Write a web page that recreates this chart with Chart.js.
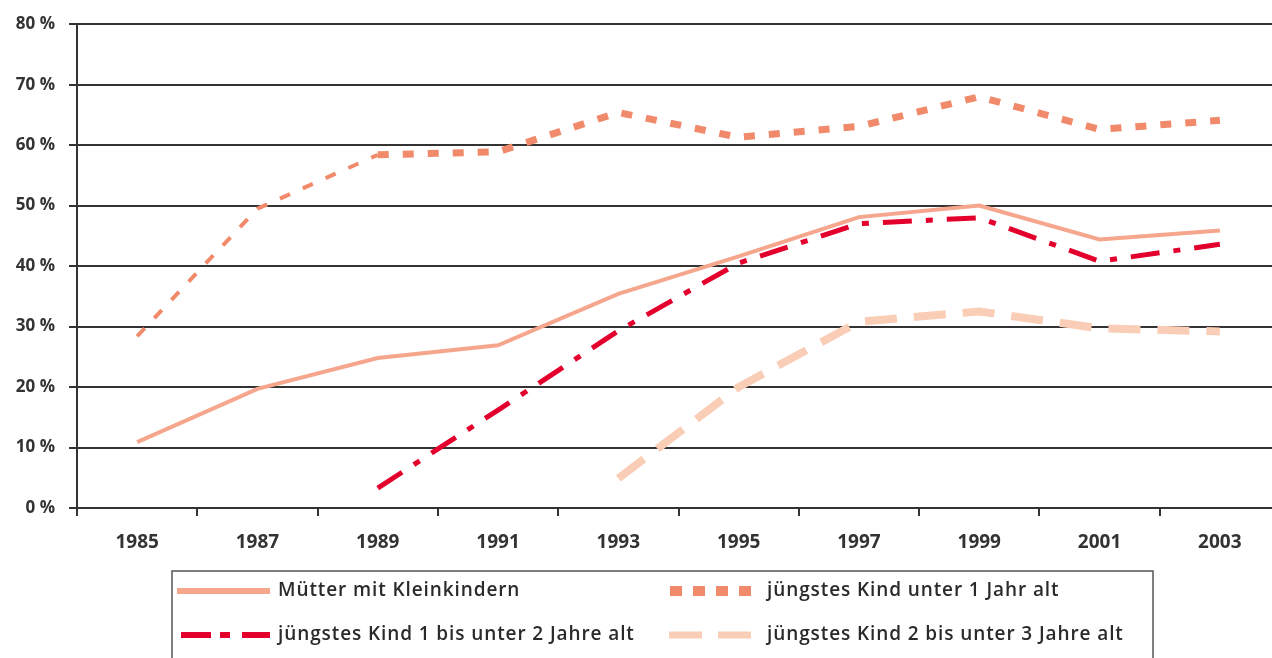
<!DOCTYPE html>
<html>
<head>
<meta charset="utf-8">
<script src="https://cdn.jsdelivr.net/npm/chart.js@4/dist/chart.umd.min.js"></script>
<style>
  html, body { margin: 0; padding: 0; background: #fff; overflow: hidden; }
  #wrap { position: relative; width: 1282px; height: 658px; }
</style>
</head>
<body>
<div id="wrap"><canvas id="chart_quote"></canvas></div>
<script>
// data (per cent)
const years = ["1985", "1987", "1989", "1991", "1993", "1995", "1997", "1999", "2001", "2003"];
const muetter = [10.9, 19.7, 24.8, 26.9, 35.4, 41.6, 48.1, 50.0, 44.4, 45.9];
const unterEins = [28.4, 49.5, 58.4, 58.9, 65.4, 61.3, 63.1, 68.0, 62.6, 64.1];
const einsBisZwei = [null, null, 3.3, 16.2, 29.3, 40.5, 47.0, 48.0, 40.8, 43.6];
const zweiBisDrei = [null, null, null, null, 4.9, 20.0, 30.8, 32.5, 29.7, 29.2];
const seriesNames = [
  "Mütter mit Kleinkindern",
  "jüngstes Kind unter 1 Jahr alt",
  "jüngstes Kind 1 bis unter 2 Jahre alt",
  "jüngstes Kind 2 bis unter 3 Jahre alt"
];

const fontFamily = "'Open Sans', 'DejaVu Sans', sans-serif";
const axisColor = "#333333";

// legend drawn by hand so the dash patterns show like the original
const boxLegend = {
  id: "boxLegend",
  afterDraw(chart) {
    const ctx = chart.ctx;
    ctx.save();
    ctx.strokeStyle = "#555555";
    ctx.lineWidth = 1.5;
    ctx.strokeRect(172, 571, 981, 120);

    const items = [
      { x: 177, y: 591, len: 93, width: 6, dash: [], textX: 278 },
      { x: 670, y: 591, len: 82, width: 10, dash: [12, 11], textX: 767 },
      { x: 181, y: 635, len: 89, width: 6, dash: [30, 9, 10, 12], textX: 278 },
      { x: 669, y: 635, len: 82, width: 7, dash: [33, 16], textX: 767 }
    ];
    items.forEach((it, i) => {
      const ds = chart.data.datasets[i];
      ctx.beginPath();
      ctx.setLineDash(it.dash);
      ctx.lineCap = "butt";
      ctx.lineWidth = it.width;
      ctx.strokeStyle = ds.borderColor;
      ctx.moveTo(it.x, it.y);
      ctx.lineTo(it.x + it.len, it.y);
      ctx.stroke();
      ctx.setLineDash([]);
      ctx.fillStyle = "#2a2a2a";
      ctx.font = "600 19px " + fontFamily;
      ctx.letterSpacing = "0.9px";
      ctx.textBaseline = "middle";
      ctx.fillText(ds.label, it.textX, it.y);
    });
    ctx.restore();
  }
};

const thinStart = (w) => (c) => (c.p0DataIndex < 2 ? w : undefined);

new Chart(document.getElementById("chart_quote"), {
  type: "line",
  data: {
    labels: years,
    datasets: [
      {
        label: seriesNames[0],
        data: muetter,
        borderColor: "#f5a68d",
        borderWidth: 4,
        pointRadius: 0,
        tension: 0
      },
      {
        label: seriesNames[1],
        data: unterEins,
        borderColor: "#f08a6b",
        borderWidth: 7,
        borderDash: [11, 14],
        pointRadius: 0,
        tension: 0,
        segment: { borderWidth: thinStart(4) }
      },
      {
        label: seriesNames[2],
        data: einsBisZwei,
        borderColor: "#e3002c",
        borderWidth: 5,
        borderDash: [29, 14, 7, 14],
        pointRadius: 0,
        tension: 0
      },
      {
        label: seriesNames[3],
        data: zweiBisDrei,
        borderColor: "#f9cdb6",
        borderWidth: 8,
        borderDash: [32, 17],
        pointRadius: 0,
        tension: 0
      }
    ]
  },
  options: {
    responsive: true,
    maintainAspectRatio: false,
    animation: false,
    layout: { padding: { top: 20, right: 2, left: 0, bottom: 0 } },
    plugins: {
      legend: { display: false },
      title: { display: false },
      tooltip: { enabled: false }
    },
    scales: {
      x: {
        offset: true,
        afterFit: (s) => { s.height = 150; },
        grid: {
          display: true,
          offset: true,
          drawOnChartArea: false,
          drawTicks: true,
          tickLength: 8,
          color: axisColor,
          lineWidth: 2
        },
        border: { display: true, color: axisColor, width: 2 },
        ticks: {
          padding: 15,
          color: axisColor,
          font: { family: fontFamily, size: 19, weight: "bold" },
          maxRotation: 0
        }
      },
      y: {
        min: 0,
        max: 80,
        afterFit: (s) => { s.width = 77; },
        grid: {
          color: axisColor,
          lineWidth: 2,
          drawTicks: true,
          tickLength: 8
        },
        border: { display: true, color: axisColor, width: 2 },
        ticks: {
          stepSize: 10,
          padding: 14,
          color: axisColor,
          font: { family: fontFamily, size: 17, weight: "bold" },
          callback: (v) => v + " %"
        }
      }
    }
  },
  plugins: [boxLegend]
});
</script>
</body>
</html>
